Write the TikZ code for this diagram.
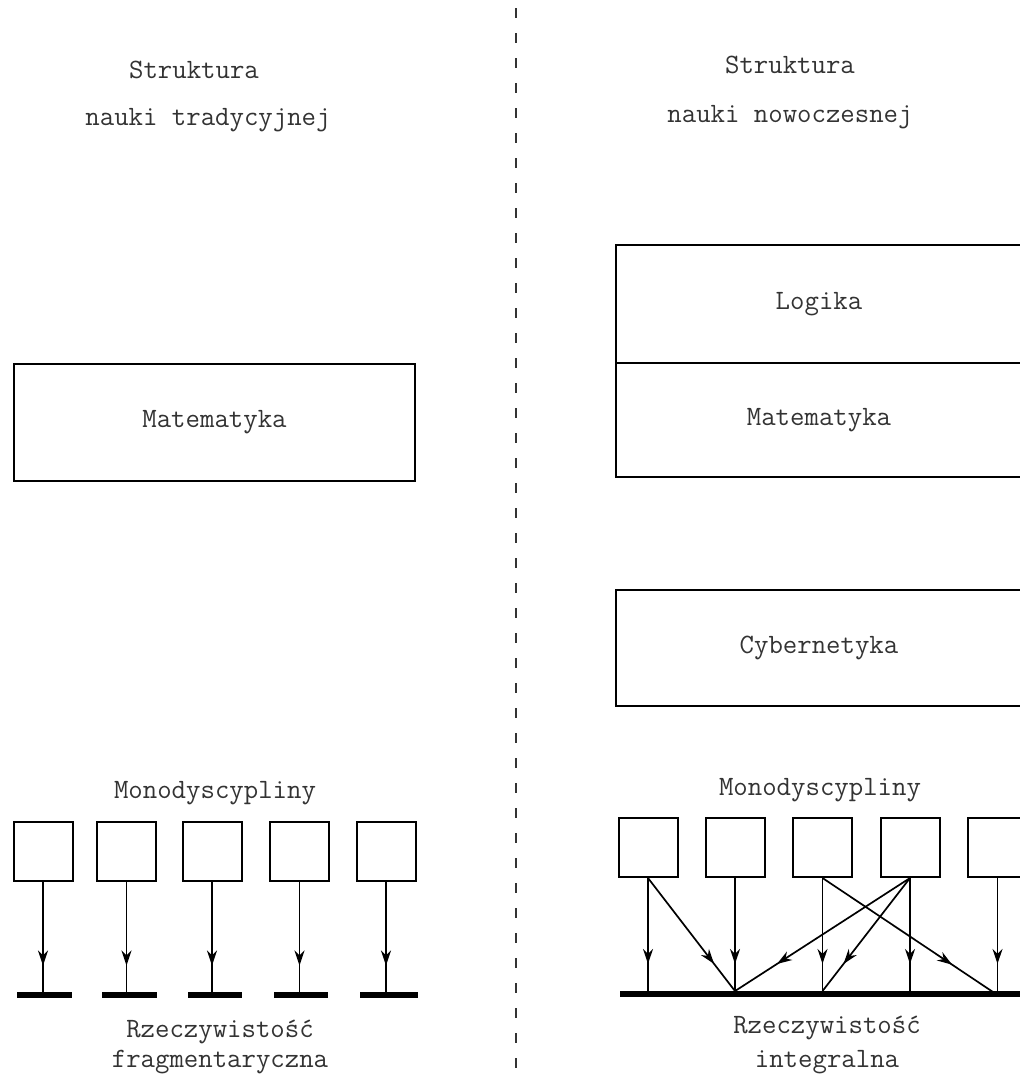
\documentclass[tikz,border=0pt]{standalone}
\usepackage{fontspec}
\usetikzlibrary{arrows.meta,decorations.markings}
\newcommand{\twfont}{\fontsize{28}{30}\selectfont\ttfamily\addfontfeature{FakeBold=1.6}}
\begin{document}
\begin{tikzpicture}[x=1pt,y=-1pt,
  txt/.style={font=\twfont, inner sep=0pt, text=black!80},
  bigbox/.style={draw, line width=2pt, inner sep=0pt, font=\twfont, text=black!80},
  smallbox/.style={draw, line width=2pt, minimum width=59pt, minimum height=59pt, inner sep=0pt},
  bar/.style={fill=black, inner sep=0pt, minimum height=5.5pt},
  midarr/.style={line width=1.7pt, postaction={decorate}, decoration={markings,
      mark=at position 0.76 with {\arrow{Stealth[length=15pt,width=10pt]}}}},
  divider/.style={line width=2.6pt, dash pattern=on 10pt off 15pt, black!80}
]
\useasboundingbox (0,0) rectangle (1020,1077);
\clip (0,0) rectangle (1020,1077);

% divider
\coordinate (dtop) at (516,8);
\coordinate (dbot) at (516,1077);
\draw[divider] (dtop) -- (dbot);

% ---------- left: traditional ----------
\node[txt, anchor=base] (lt1) at (194,78) {Struktura};
\node[txt, anchor=base] (lt2) at (208,125) {nauki tradycyjnej};

\node[bigbox, minimum width=401pt, minimum height=117pt] (lmat) at (214.5,422.5) {Matematyka};

\node[txt, anchor=base] (lmono) at (215,798) {Monodyscypliny};

\foreach \i/\x in {1/43,2/126.5,3/212,4/299.5,5/386} {
  \node[smallbox] (lb\i) at (\x,851) {};
}
\foreach \i/\xa/\xb in {1/17/72,2/102/157,3/188/242,4/274/328,5/360/418} {
  \node[bar, minimum width={\xb-\xa}] (lbar\i) at ({(\xa+\xb)/2},995) {};
}
\foreach \i in {1,...,5} {
  \coordinate (lend\i) at (lb\i.south |- lbar\i.north);
  \draw[midarr] (lb\i.south) -- (lend\i);
}

\node[txt, anchor=base] (lr1) at (220,1037) {Rzeczywistość};
\node[txt, anchor=base] (lr2) at (220,1067) {fragmentaryczna};

% ---------- right: modern ----------
\node[txt, anchor=base] (rt1) at (790,73) {Struktura};
\node[txt, anchor=base] (rt2) at (790,122) {nauki nowoczesnej};

\node[bigbox, minimum width=406pt, minimum height=118pt] (rlog) at (819,304) {Logika};
\node[bigbox, minimum width=406pt, minimum height=114pt] (rmat) at (819,420) {Matematyka};

\node[bigbox, minimum width=406pt, minimum height=116pt] (rcyb) at (819,648) {Cybernetyka};

\node[txt, anchor=base] (rmono) at (820,795) {Monodyscypliny};

\foreach \i/\x in {1/648,2/735,3/822.5,4/910,5/997.5} {
  \node[smallbox] (rb\i) at (\x,847.5) {};
}
\node[bar, minimum width=410pt] (rbar) at (825,994) {};

\foreach \i in {1,...,5} {
  \coordinate (rend\i) at (rb\i.south |- rbar.north);
  \draw[midarr] (rb\i.south) -- (rend\i);
}
\coordinate (rend6) at (993,992);
\draw[midarr] (rb1.south) -- (rend2);
\draw[midarr] (rb3.south) -- (rend6);
\draw[midarr] (rb4.south) -- (rend2);
\draw[midarr] (rb4.south) -- (rend3);

\node[txt, anchor=base] (rr1) at (827,1033) {Rzeczywistość};
\node[txt, anchor=base] (rr2) at (827,1067) {integralna};
\end{tikzpicture}
\end{document}
